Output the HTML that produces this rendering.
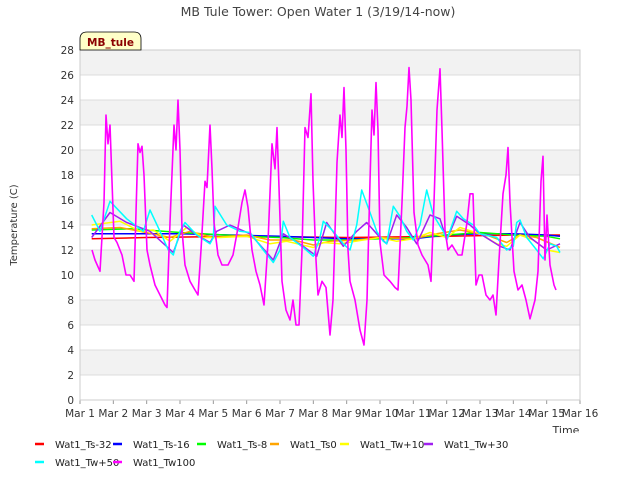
<!DOCTYPE html>
<html><head><meta charset="utf-8"><style>
body{margin:0;background:#fff}
svg text{font-family:"DejaVu Sans","Liberation Sans",sans-serif}
</style></head><body>
<svg id="c" width="640" height="480" xmlns="http://www.w3.org/2000/svg">
<rect width="640" height="480" fill="#fff"/>
<text x="318" y="16" text-anchor="middle" font-size="12.5" fill="#444">MB Tule Tower: Open Water 1 (3/19/14-now)</text>
<text transform="translate(17,225) rotate(-90)" text-anchor="middle" font-size="10" fill="#333">Temperature (C)</text>
<g id="grid"></g><g id="series"></g>
<path d="M80,50 L80,39 Q80,32 87,32 L134,32 Q141,32 141,39 L141,50 Z" fill="#ffffc8" stroke="#000" stroke-width="0.8"/>
<text x="110.5" y="46" text-anchor="middle" font-size="10.5" font-weight="bold" fill="#8b0000">MB_tule</text>
<g id="legend"></g>
</svg>
<script>
const NS="http://www.w3.org/2000/svg";
const yTicks=[0,2,4,6,8,10,12,14,16,18,20,22,24,26,28];
const xTickLabels=["Mar 1","Mar 2","Mar 3","Mar 4","Mar 5","Mar 6","Mar 7","Mar 8","Mar 9","Mar 10","Mar 11","Mar 12","Mar 13","Mar 14","Mar 15","Mar 16"];
const seriesNames=["Wat1_Ts-32","Wat1_Ts-16","Wat1_Ts-8","Wat1_Ts0","Wat1_Tw+10","Wat1_Tw+30","Wat1_Tw+50","Wat1_Tw100"];
const seriesColors=["#ff0000","#0000ff","#00ff00","#ffa500","#ffff00","#a020f0","#00ffff","#ff00ff"];
const ts32=[[0.35,12.9],[2,13.0],[5,13.1],[8,13.0],[11,13.1],[13,13.2],[14.4,13.2]];
const ts16=[[0.35,13.3],[3,13.3],[6,13.1],[8,12.9],[10,12.9],[11,13.2],[12,13.3],[13,13.3],[14,13.2],[14.4,13.1]];
const ts8=[[0.35,13.6],[1.5,13.7],[3,13.4],[5,13.1],[6,13],[7,12.8],[8,12.8],[9,12.9],[10,13],[11,13.2],[12,13.4],[13,13.2],[14,13.1],[14.4,12.9]];
const ts0=[[0.35,13.7],[1.2,13.8],[1.8,13.5],[2.7,13],[3.3,13.5],[4,13],[5,13.2],[5.7,12.8],[6.4,12.8],[7,12.4],[7.5,12.7],[8.3,12.8],[9,13],[10,12.9],[10.7,13.3],[11.4,13.6],[12.2,13.2],[12.8,12.6],[13.2,13.2],[13.7,13],[14.4,12.2]];
const tw10=[[0.35,14],[1.2,14.3],[1.8,13.5],[2.2,13.6],[2.7,12.7],[3.2,13.8],[3.7,13],[4.2,13],[5,13.1],[5.7,12.5],[6.2,12.7],[7,12.2],[7.3,12.6],[7.8,12.5],[8.5,12.8],[9,13],[9.5,12.7],[10,12.9],[10.5,13.4],[11,13],[11.4,13.8],[12,13.3],[12.5,12.5],[12.8,12.3],[13.2,13.2],[13.6,12.8],[14,12],[14.4,11.8]];
const tw30=[[0.35,13],[0.9,15],[1.4,14.2],[2.1,13.5],[2.8,11.8],[3.1,14],[3.5,13.2],[3.9,12.6],[4.1,13.5],[4.5,14],[5.1,13.3],[5.8,11.2],[6.1,13.3],[6.7,12.3],[7.1,11.5],[7.4,14.2],[7.9,12.3],[8.3,13.5],[8.6,14.2],[9,13],[9.2,12.5],[9.5,14.8],[9.8,13.8],[10.1,12.5],[10.5,14.8],[10.8,14.5],[11,12.8],[11.3,14.7],[11.7,14],[12,13.3],[12.6,12.3],[12.9,12],[13.2,14.2],[13.5,13],[14,12],[14.4,12.5]];
const tw50=[[0.35,14.8],[0.6,13.5],[0.9,15.9],[1.4,14.5],[1.9,13.5],[2.1,15.2],[2.4,13.5],[2.65,12],[2.8,11.6],[3,13.5],[3.15,14.2],[3.5,13.2],[3.9,12.5],[4,13],[4.05,15.5],[4.4,14],[4.8,13.5],[5.1,13.4],[5.5,12],[5.8,11],[6,12],[6.1,14.3],[6.3,13],[6.7,12.2],[7,11.5],[7.2,13],[7.3,14.3],[7.6,13.5],[7.9,12.5],[8.1,12],[8.3,14],[8.45,16.8],[8.7,15],[8.9,13.5],[9.1,12.7],[9.2,12.5],[9.3,14],[9.4,15.5],[9.6,14.7],[9.8,13.5],[10,12.8],[10.2,14],[10.4,16.8],[10.6,14.8],[10.9,13.5],[11,12.8],[11.2,14.3],[11.3,15.1],[11.5,14.5],[11.8,14],[12,13.3],[12.5,13],[12.8,12],[13,12.3],[13.1,14.2],[13.2,14.4],[13.4,13],[13.7,12],[13.9,11.3],[14.1,12.5],[14.3,12.3],[14.4,11.8]];
const tw100=[[0.36,12],[0.45,11.2],[0.6,10.3],[0.72,15.8],[0.78,22.8],[0.84,20.5],[0.9,22],[0.96,17.5],[1.02,13],[1.11,12.6],[1.26,11.6],[1.38,10],[1.5,10],[1.62,9.5],[1.74,20.5],[1.8,19.8],[1.86,20.3],[1.92,18],[2.01,12],[2.1,10.8],[2.25,9.2],[2.4,8.4],[2.55,7.6],[2.61,7.4],[2.7,14.2],[2.82,22],[2.88,20],[2.94,24],[3,20],[3.06,13.6],[3.15,10.8],[3.3,9.5],[3.45,8.8],[3.54,8.4],[3.63,12],[3.75,17.5],[3.81,17],[3.9,22],[3.96,18.5],[4.02,14.2],[4.14,11.6],[4.26,10.8],[4.44,10.8],[4.59,11.6],[4.74,13.8],[4.86,15.8],[4.95,16.8],[5.04,15.4],[5.16,12],[5.28,10.3],[5.4,9.2],[5.52,7.6],[5.64,12.6],[5.76,20.5],[5.85,18.5],[5.91,21.8],[5.97,17],[6.06,9.5],[6.18,7.2],[6.3,6.4],[6.39,8],[6.48,6],[6.57,6],[6.66,12],[6.75,21.8],[6.84,21],[6.93,24.5],[6.99,17.5],[7.08,11.2],[7.14,8.4],[7.26,9.5],[7.38,9],[7.5,5.2],[7.59,8],[7.71,19],[7.8,22.8],[7.86,21],[7.92,25],[7.98,20],[8.04,12],[8.1,9.5],[8.25,8],[8.4,5.6],[8.52,4.4],[8.61,8],[8.7,17.5],[8.76,23.2],[8.82,21.2],[8.88,25.4],[8.94,21.6],[9,12.6],[9.12,10],[9.3,9.5],[9.45,9],[9.54,8.8],[9.66,15.8],[9.75,21.8],[9.81,23.5],[9.87,26.6],[9.93,24],[10.02,15],[10.14,12.4],[10.26,11.6],[10.44,10.8],[10.53,9.5],[10.62,15.8],[10.71,23.2],[10.8,26.5],[10.86,21.6],[10.95,13.6],[11.04,12],[11.16,12.4],[11.34,11.6],[11.46,11.6],[11.61,14.2],[11.7,16.5],[11.79,16.5],[11.88,9.2],[11.97,10],[12.06,10],[12.18,8.4],[12.3,8],[12.39,8.4],[12.48,6.8],[12.57,11.2],[12.69,16.5],[12.78,18],[12.84,20.2],[12.9,15.8],[13.02,10.3],[13.14,8.8],[13.26,9.2],[13.38,8],[13.5,6.5],[13.65,8],[13.74,10.3],[13.83,17.5],[13.89,19.5],[13.95,11.2],[14.01,14.8],[14.1,10.8],[14.22,9.2],[14.28,8.8]];
const allSeries=[ts32,ts16,ts8,ts0,tw10,tw30,tw50,tw100];
const X0=80,X1=580,Y0=400,Y1=50;
const xs=d=>X0+d*(X1-X0)/15;
const ys=v=>Y0-v*(Y0-Y1)/28;
function mk(t,a,p){const e=document.createElementNS(NS,t);for(const k in a)e.setAttribute(k,a[k]);p.appendChild(e);return e;}
const grid=document.getElementById('grid');
for(let i=0;i<yTicks.length-1;i++){
  if(i%2===1){const r=mk('rect',{x:X0,y:ys(yTicks[i+1]),width:X1-X0,height:ys(yTicks[i])-ys(yTicks[i+1]),fill:'#f2f2f2'},grid);
  
  }
}
yTicks.forEach(v=>{
  const l=mk('line',{x1:X0,x2:X1,y1:ys(v),y2:ys(v),stroke:'#dcdcdc','stroke-width':1},grid);
  
  
  const t=mk('text',{x:X0-6,y:ys(v)+4,'text-anchor':'end','font-size':10.5,fill:'#333'},grid);
  
  
  t.textContent=v;
});
xTickLabels.forEach((s,i)=>{
  const l=mk('line',{x1:xs(i),x2:xs(i),y1:Y0,y2:Y0+4,stroke:'#999'},grid);
  
  
  const t=mk('text',{x:xs(i),y:Y0+17,'text-anchor':'middle','font-size':10.5,fill:'#333'},grid);
  
  
  t.textContent=s;
});
const fr=mk('rect',{x:X0,y:Y1,width:X1-X0,height:Y0-Y1,fill:'none',stroke:'#ccc'},grid);


const sg=document.getElementById('series');
allSeries.forEach((s,i)=>{
  const p=mk('polyline',{points:s.map(q=>xs(q[0]).toFixed(1)+','+ys(q[1]).toFixed(1)).join(' '),fill:'none',stroke:seriesColors[i],'stroke-width':i===7?1.6:1.5,'stroke-linejoin':'round'},sg);
  
  
});
const tl=mk('text',{x:566,y:434,'text-anchor':'middle','font-size':11,fill:'#333'},document.getElementById('c'));


tl.textContent='Time';
const cover=mk('rect',{x:540,y:433,width:60,height:10,fill:'#fff'},document.getElementById('c'));
const lg=document.getElementById('legend');
const lx=[35,113,197,270,340,424,35,113],ly=[443,443,443,443,443,443,461,461];
seriesNames.forEach((n,i)=>{
  const g=mk('g',{},lg);
  
  
  mk('line',{x1:lx[i],x2:lx[i]+9,y1:ly[i]+1,y2:ly[i]+1,stroke:seriesColors[i],'stroke-width':2.5},g);
  const t=mk('text',{x:lx[i]+20,y:ly[i]+5,'font-size':10,fill:'#222'},g);
  t.textContent=n;
});
</script>
</body></html>
